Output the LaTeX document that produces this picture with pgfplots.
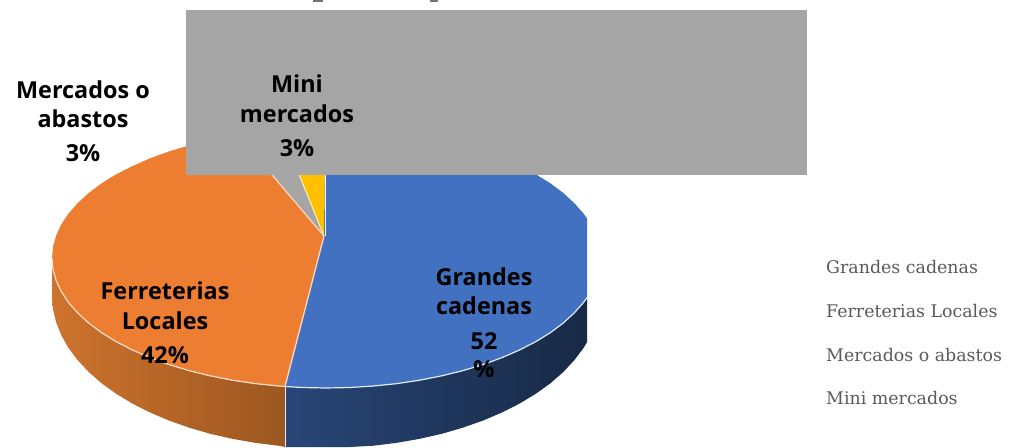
\documentclass[border=0pt]{standalone}
\usepackage{pgfplots}
\pgfplotsset{compat=1.18}
\usepackage{fontspec}
\setmainfont{Open Sans}
\newfontfamily\legendfont{DejaVu Serif}
\definecolor{blueTop}{HTML}{4171C0}
\definecolor{orangeTop}{HTML}{EC7D31}
\definecolor{grayTop}{HTML}{A5A5A5}
\definecolor{yellowTop}{HTML}{FFC000}
\definecolor{legendText}{HTML}{595959}
\definecolor{sideOrangeL}{HTML}{CE732E}
\definecolor{sideOrangeR}{HTML}{9C5720}
\newcommand{\pielabel}[2]{\node[anchor=base,font=\fontsize{23.4}{23.4}\selectfont\bfseries,inner sep=0pt] at (axis cs:#1) {#2};}
\newcommand{\legendlabel}[2]{\node[anchor=base west,font=\fontsize{17.4}{17.4}\selectfont\legendfont,text=legendText,inner sep=0pt] at (axis cs:826,#1) {#2};}
\begin{document}
\begin{tikzpicture}
\path (0,0) rectangle (1011pt,447pt);
\begin{axis}[
  at={(0,0)}, anchor=south west,
  scale only axis, width=1011pt, height=447pt,
  xmin=0, xmax=1011, ymin=0, ymax=447, y dir=reverse,
  hide axis, clip=true,
]
% side wall, Ferreterias Locales
\addplot[draw=none, left color=sideOrangeL, right color=sideOrangeR] coordinates {
 (52,258) (53,269.3) (56.2,280.6) (61.3,291.6) (68.5,302.5) (77.7,312.9) (88.7,323) (101.5,332.6) (116.1,341.6) (132.3,349.9) (149.9,357.6) (168.8,364.5) (189,370.6) (210.2,375.8) (232.3,380.2) (255.1,383.6) (278.4,386) (285,386.5)
 (285,447) (278.4,445.7) (255.1,442.8) (232.3,438.8) (210.2,433.8) (189,427.6) (168.8,420.5) (149.9,412.4) (132.3,403.5) (116.1,393.7) (101.5,383.2) (88.7,372) (77.7,360.2) (68.5,348) (61.3,335.3) (56.2,322.4) (53,309.3) (52,296)
} -- cycle;
% side wall, Grandes cadenas
\addplot[draw=none, left color=blueTop!62!black, middle color=blueTop!40!black, right color=blueTop!36!black] coordinates {
 (285,386.5) (302.1,387.5) (326,388) (349.9,387.5) (373.6,386) (396.9,383.6) (419.7,380.2) (441.8,375.8) (463,370.6) (483.2,364.5) (502.1,357.6) (519.7,349.9) (535.9,341.6) (550.5,332.6) (563.3,323) (574.3,312.9) (583.5,302.5) (587,297.6)
 (587,342.2) (583.5,348) (574.3,360.2) (563.3,372) (550.5,383.2) (535.9,393.7) (519.7,403.5) (502.1,412.4) (483.2,420.5) (463,427.6) (441.8,433.8) (419.7,438.8) (396.9,442.8) (373.6,445.7) (349.9,447) (326,447) (302.1,447) (285,447)
} -- cycle;
% top faces
\addplot[fill=orangeTop, draw=none] coordinates {
 (324,236) (285,386.5) (278.4,386) (255.1,383.6) (232.3,380.2) (210.2,375.8) (189,370.6) (168.8,364.5) (149.9,357.6) (132.3,349.9) (116.1,341.6) (101.5,332.6) (88.7,323) (77.7,312.9) (68.5,302.5) (61.3,291.6) (56.2,280.6) (53,269.3) (52,258) (53,246.7) (56.2,235.4) (61.3,224.4) (68.5,213.5) (77.7,203.1) (88.7,193) (101.5,183.4) (116.1,174.4) (132.3,166.1) (149.9,158.4) (168.8,151.5) (189,145.4) (210.2,140.2) (238,135)
} -- cycle;
\addplot[fill=blueTop, draw=none] coordinates {
 (324,236) (325,128) (373.6,130) (419.7,135.8) (463,145.4) (502.1,158.4) (519.7,166.1) (535.9,174.4) (550.5,183.4) (563.3,193) (574.3,203.1) (583.5,213.5) (587,218.4)
 (587,297.6) (583.5,302.5) (574.3,312.9) (563.3,323) (550.5,332.6) (535.9,341.6) (519.7,349.9) (502.1,357.6) (483.2,364.5) (463,370.6) (441.8,375.8) (419.7,380.2) (396.9,383.6) (373.6,386) (349.9,387.5) (326,388) (302.1,387.5) (285,386.5)
} -- cycle;
\addplot[fill=grayTop, draw=none] coordinates {(324,236) (238,135) (281,130)} -- cycle;
\addplot[fill=yellowTop, draw=none] coordinates {(324,236) (281,130) (325,128)} -- cycle;
% pale seams between the slices
\addplot[draw=orangeTop!30!white, line width=1.3pt] coordinates {(324,236) (285,386.5)};
\addplot[draw=orangeTop!30!white, line width=1.2pt] coordinates {(324,236) (238,135)};
\addplot[draw=yellowTop!25!white, line width=1pt] coordinates {(324,236) (281,130)};
\addplot[draw=white!85!yellowTop, line width=1pt] coordinates {(325,236) (325,128)};
\addplot[draw=blueTop!15!white, line width=1pt] coordinates {(285,387) (285,447)};
% pale rim along the front edge
\addplot[draw=orangeTop!25!white, line width=1.2pt, line join=round] coordinates {
 (52,258) (53,269.3) (56.2,280.6) (61.3,291.6) (68.5,302.5) (77.7,312.9) (88.7,323) (101.5,332.6) (116.1,341.6) (132.3,349.9) (149.9,357.6) (168.8,364.5) (189,370.6) (210.2,375.8) (232.3,380.2) (255.1,383.6) (278.4,386) (285,386.5)};
\addplot[draw=blueTop!15!white, line width=1.2pt, line join=round] coordinates {
 (285,386.5) (302.1,387.5) (326,388) (349.9,387.5) (373.6,386) (396.9,383.6) (419.7,380.2) (441.8,375.8) (463,370.6) (483.2,364.5) (502.1,357.6) (519.7,349.9) (535.9,341.6) (550.5,332.6) (563.3,323) (574.3,312.9) (583.5,302.5) (587,297.6)};
% grey panel across the upper part
\addplot[fill=grayTop, draw=none] coordinates {(186,10) (807,10) (807,175) (186,175)} -- cycle;
% remains of the heading along the top edge
\addplot[fill=black!55, draw=none] coordinates {(313,0) (323,0) (323,1.5) (313,1.5)} -- cycle;
\addplot[fill=black!55, draw=none] coordinates {(430,0) (438,0) (438,1.5) (430,1.5)} -- cycle;
% slice labels
\pielabel{83,98}{Mercados o}
\pielabel{83,127}{abastos}
\pielabel{83,161}{3\%}
\pielabel{297,92}{Mini}
\pielabel{297,122}{mercados}
\pielabel{297,156}{3\%}
\pielabel{165,299}{Ferreterias}
\pielabel{165,329}{Locales}
\pielabel{165,363}{42\%}
\pielabel{484,285}{Grandes}
\pielabel{484,314}{cadenas}
\pielabel{484,349}{52}
\pielabel{484,377}{\%}
% legend entries
\legendlabel{273}{Grandes cadenas}
\legendlabel{317.5}{Ferreterias Locales}
\legendlabel{361}{Mercados o abastos}
\legendlabel{404.5}{Mini mercados}
\end{axis}
\end{tikzpicture}
\end{document}
